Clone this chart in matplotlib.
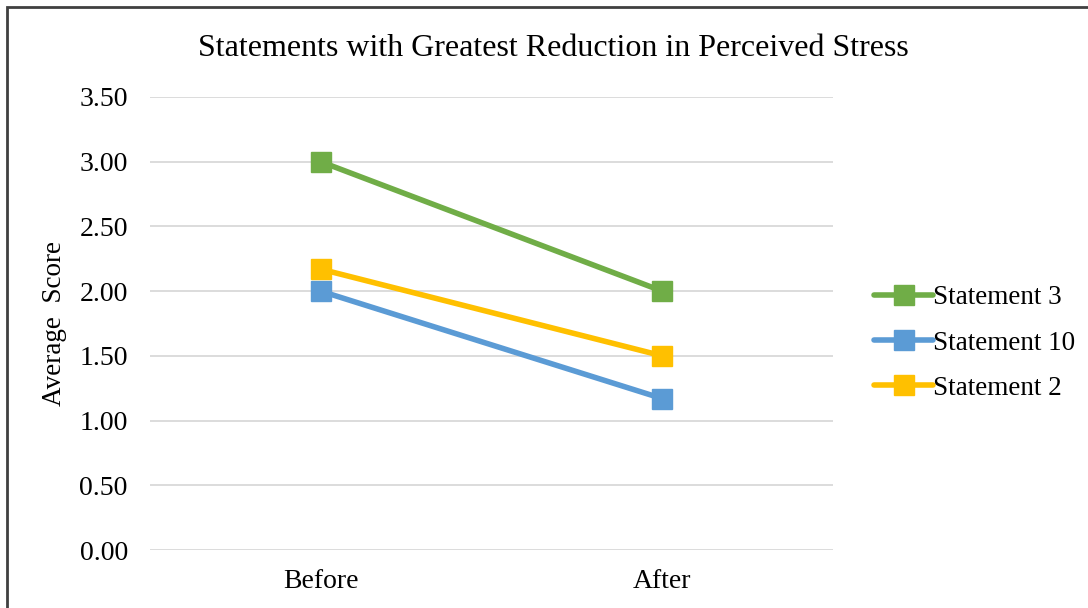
import matplotlib.pyplot as plt
import matplotlib.patches as mpatches

plt.rcParams['font.family'] = ['Liberation Serif', 'DejaVu Serif']

periods = ['Before', 'After']
series_names = ['Statement 3', 'Statement 10', 'Statement 2']
statement_3 = [3.00, 2.00]
statement_10 = [2.00, 1.17]
statement_2 = [2.17, 1.50]
colors = ['#70AD47', '#5B9BD5', '#FFC000']
yticks = [0.0, 0.5, 1.0, 1.5, 2.0, 2.5, 3.0, 3.5]

fig = plt.figure(figsize=(10.88, 6.08), dpi=100)
W, H = 1088, 608

# chart frame (runs off the right and bottom edges)
fig.patches.append(mpatches.Rectangle((7 / W, -0.1), 1.2, 1 - 7 / H + 0.1,
                                      transform=fig.transFigure,
                                      fill=False, edgecolor='#404040',
                                      linewidth=2))

ax = fig.add_axes([150 / W, 1 - 550 / H, (833 - 150) / W, (550 - 97) / H])

x = list(range(len(periods)))
for name, vals, c in zip(series_names, [statement_3, statement_10, statement_2], colors):
    ax.plot(x, vals, color=c, linewidth=4, marker='s', markersize=14,
            markeredgecolor=c, label=name, solid_capstyle='round')

ax.set_xlim(-0.5, 1.5)
ax.set_ylim(0, 3.5)
ax.set_yticks(yticks)
ax.set_yticklabels([f'{v:.2f}' for v in yticks], fontsize=20)
ax.set_xticks(x)
ax.set_xticklabels(periods, fontsize=20)
ax.tick_params(axis='y', length=0, pad=16)
ax.tick_params(axis='x', length=0, pad=14)
ax.grid(axis='y', color='#D9D9D9', linewidth=1.3)
ax.set_axisbelow(True)
for s in ax.spines.values():
    s.set_visible(False)

ax.set_ylabel('Average  Score', fontsize=19.5, labelpad=9)
fig.text(553 / W, 1 - 49 / H, 'Statements with Greatest Reduction in Perceived Stress',
         ha='center', va='center', fontsize=23)

ax.legend(loc='center left', bbox_to_anchor=(863 / W, 1 - 343 / H),
          bbox_transform=fig.transFigure, frameon=False, fontsize=19.5,
          handlelength=2.2, handletextpad=0.0, labelspacing=0.75,
          borderaxespad=0)

fig.savefig('out.png', dpi=100)
